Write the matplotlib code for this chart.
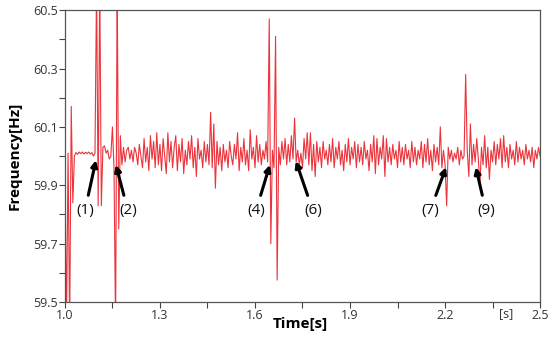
import matplotlib
matplotlib.use('Agg')
import matplotlib.pyplot as plt
import numpy as np

plt.rcParams['font.family'] = ['Open Sans', 'DejaVu Sans']

# sampled frequency, one value every 5 ms from 1.000 s to 2.500 s
t_start = 1.0
t_step = 0.005
freq = [
    59.99, 59.40, 60.01, 59.40, 60.17, 59.84, 60.00, 60.012, 60.006, 60.014,
    60.008, 60.014, 60.007, 60.013, 60.008, 60.014, 60.007, 60.012, 60.000, 60.010,
    60.60, 59.83, 60.60, 59.83, 60.03, 60.035, 60.01, 60.02, 59.99, 60.00,
    60.10, 59.96, 59.40, 60.60, 59.75, 60.07, 59.97, 60.03, 59.98, 60.02,
    60.03, 59.99, 60.02, 59.98, 60.03, 60.01, 59.97, 60.04, 60.00, 59.96,
    60.06, 59.98, 60.03, 59.95, 60.07, 59.99, 60.05, 59.96, 60.08, 59.97,
    60.04, 59.95, 60.06, 60.00, 59.94, 60.08, 59.98, 60.05, 59.96, 60.03,
    60.07, 59.95, 60.04, 59.98, 60.06, 59.94, 60.02, 59.97, 60.05, 59.99,
    60.07, 59.96, 60.03, 59.93, 60.06, 59.99, 60.02, 59.96, 60.05, 59.98,
    60.04, 59.97, 60.15, 59.96, 60.11, 59.89, 60.05, 59.97, 60.03, 59.95,
    60.04, 59.98, 60.02, 59.96, 60.05, 60.00, 59.97, 60.04, 59.99, 60.08,
    59.95, 60.03, 59.98, 60.06, 59.97, 60.02, 59.95, 60.09, 59.99, 60.03,
    59.96, 60.07, 59.98, 60.04, 59.97, 60.02, 59.99, 60.05, 59.98, 60.47,
    59.70, 60.02, 59.96, 60.41, 59.575, 60.03, 59.97, 60.05, 59.99, 60.06,
    59.97, 60.04, 59.98, 60.07, 59.99, 60.13, 59.98, 60.02, 59.97, 60.01,
    59.96, 60.06, 59.99, 60.08, 59.97, 60.08, 59.95, 60.04, 59.93, 60.05,
    59.98, 60.03, 59.96, 60.05, 59.99, 60.02, 59.97, 60.04, 59.98, 60.06,
    59.96, 60.03, 59.99, 60.05, 59.97, 60.02, 59.95, 60.04, 59.98, 60.06,
    59.97, 60.03, 59.99, 60.05, 59.96, 60.04, 59.98, 60.03, 59.97, 60.05,
    59.99, 60.02, 59.95, 60.04, 59.98, 60.07, 59.94, 60.06, 59.97, 60.03,
    59.99, 60.07, 59.93, 60.06, 59.98, 60.03, 59.97, 60.04, 59.99, 60.02,
    59.96, 60.05, 59.98, 60.03, 59.97, 60.04, 59.99, 60.02, 59.96, 60.05,
    59.98, 60.03, 59.97, 60.02, 59.99, 60.05, 59.96, 60.04, 59.98, 60.06,
    59.97, 60.02, 59.95, 60.04, 59.98, 60.03, 59.97, 60.10, 59.96, 60.02,
    59.97, 59.83, 60.03, 59.99, 60.02, 59.98, 60.01, 59.99, 60.03, 59.97,
    60.02, 59.99, 60.00, 60.28, 60.02, 59.93, 60.11, 59.97, 60.04, 59.98,
    60.06, 59.99, 59.90, 60.03, 59.97, 60.07, 59.96, 60.03, 59.92, 60.02,
    59.98, 60.05, 59.97, 60.04, 59.99, 60.06, 59.96, 60.07, 59.98, 60.03,
    59.96, 60.04, 59.99, 60.02, 59.97, 60.05, 59.98, 60.03, 59.99, 60.02,
    59.97, 60.04, 59.99, 60.02, 59.98, 60.03, 59.96, 60.02, 59.99, 60.03,
    60.00,
]

# event labels: arrow tips and label positions
ev_labels = ['(1)', '(2)', '(4)', '(6)', '(7)', '(9)']
ev_tip_t = [1.098, 1.161, 1.647, 1.729, 2.203, 2.297]
ev_tip_f = [59.986, 59.97, 59.97, 59.983, 59.962, 59.962]
ev_text_t = [1.063, 1.199, 1.603, 1.783, 2.153, 2.329]
ev_text_f = [59.812, 59.812, 59.812, 59.812, 59.812, 59.812]

xticks = [1.0, 1.3, 1.6, 1.9, 2.2, 2.5]
yticks = [59.5, 59.7, 59.9, 60.1, 60.3, 60.5]

t = t_start + t_step * np.arange(len(freq))

fig = plt.figure(figsize=(5.5, 3.38), dpi=100)
ax = fig.add_axes([0.118, 0.1065, 0.864, 0.8635])

ax.plot(t, freq, color='#e8101a', lw=0.8, alpha=0.85)

ax.set_xlim(1.0, 2.5)
ax.set_ylim(59.5, 60.5)
ax.set_xticks(xticks)
ax.set_xticklabels([f'{v:.1f}' for v in xticks])
ax.set_xticks([1.15, 1.45, 1.75, 2.05, 2.35], minor=True)
ax.set_yticks(yticks)
ax.set_yticklabels([f'{v:.1f}' for v in yticks])
ax.set_yticks([59.6, 59.8, 60.0, 60.2, 60.4], minor=True)
ax.tick_params(which='both', direction='out', length=4, width=0.8,
               color='#444444', labelsize=9, labelcolor='#333333', pad=1)
for s in ax.spines.values():
    s.set_color('#555555')
    s.set_linewidth(0.9)

ax.text(2.393, 59.5 - 0.018, '[s]', ha='center', va='top', fontsize=9,
        color='#333333')

ax.set_xlabel('Time[s]', fontsize=11, fontweight='bold')
ax.xaxis.set_label_coords(0.495, -0.05)
ax.set_ylabel('Frequency[Hz]', fontsize=11, fontweight='bold', labelpad=8)

for lab, tx, ty, x0, y0 in zip(ev_labels, ev_tip_t, ev_tip_f, ev_text_t, ev_text_f):
    ax.annotate(lab, xy=(tx, ty), xytext=(x0, y0), ha='center', va='center',
                fontsize=11, color='#111111',
                arrowprops=dict(arrowstyle='-|>', color='black', lw=2.2,
                                mutation_scale=9, shrinkA=4, shrinkB=0))

fig.savefig('out.png', dpi=100)
